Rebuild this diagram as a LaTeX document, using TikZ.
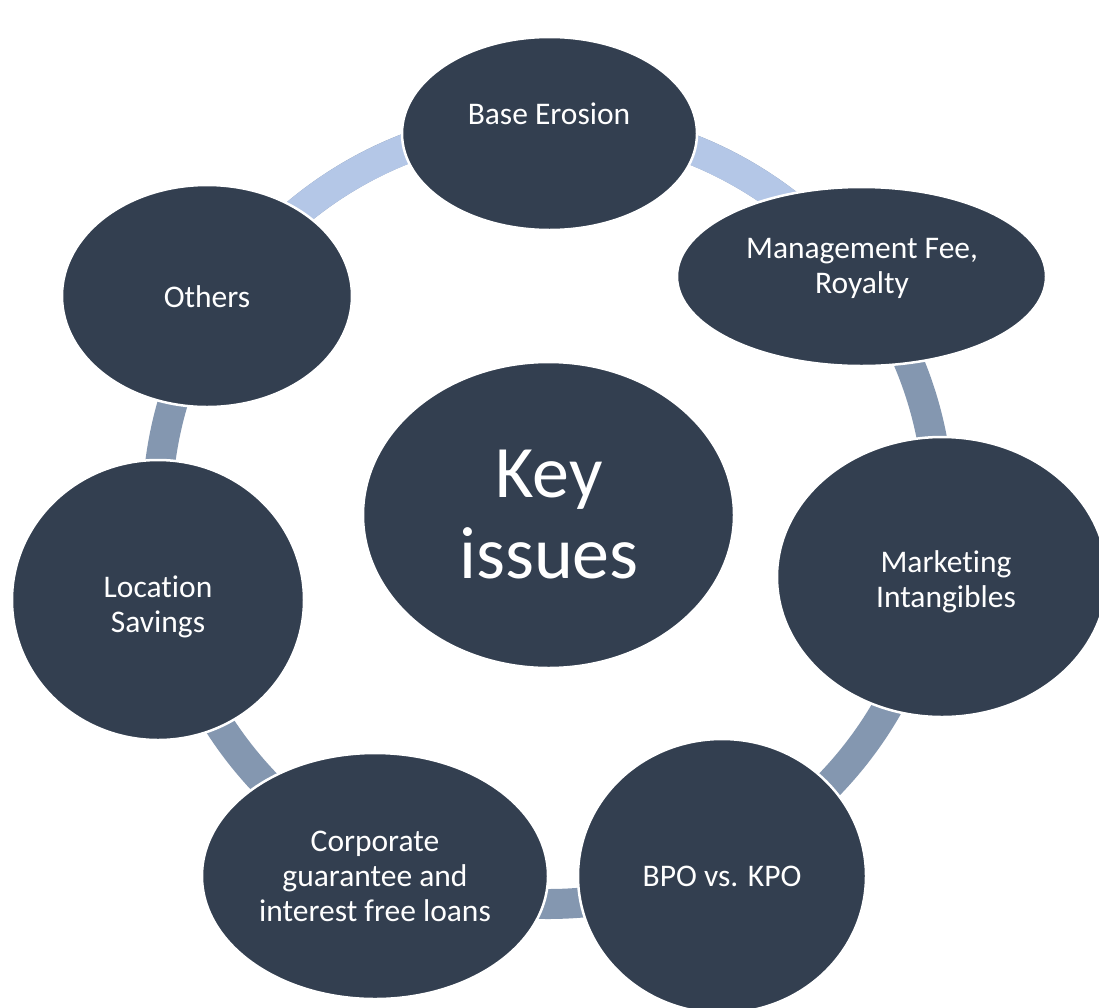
\documentclass[tikz,border=0pt]{standalone}
\usepackage{fontspec}
\setmainfont{Carlito}[Ligatures={NoCommon}]
\usetikzlibrary{shapes.geometric}
\definecolor{navy}{HTML}{333F50}
\definecolor{ringlight}{HTML}{B4C7E7}
\definecolor{ringdark}{HTML}{8497B0}
\begin{document}
\begin{tikzpicture}[x=1pt,y=-1pt,
  issue/.style={ellipse, fill=navy, draw=white, line width=2.5pt, inner sep=0pt},
  lbl/.style={text=white, align=center, font=\fontsize{31.5}{35}\selectfont, inner sep=0pt},
  biglbl/.style={text=white, align=center, font=\fontsize{74}{81}\selectfont, inner sep=0pt},
  ringseg/.style={line width=30pt}]
\useasboundingbox (0,0) rectangle (1099,1007);
\coordinate (hub) at (548,513);
\draw[ringseg, ringdark] (hub) circle[radius=391];
\draw[ringseg, ringlight] ([shift={(-147:391)}]hub) arc[start angle=-147, end angle=-37, radius=391];
\node[issue, minimum width=371pt, minimum height=306pt] (key) at (548.5,515) {};
\node[issue, minimum width=295pt, minimum height=193pt] (base) at (549.5,133.5) {};
\node[issue, minimum width=369pt, minimum height=179pt] (mgmt) at (861.5,276.5) {};
\node[issue, minimum width=330pt, minimum height=280pt] (mkt) at (942,577) {};
\node[issue, minimum width=288pt, minimum height=274pt] (bpo) at (722,876) {};
\node[issue, minimum width=346pt, minimum height=246pt] (corp) at (375,876) {};
\node[issue, minimum width=292pt, minimum height=280pt] (loc) at (158,600) {};
\node[issue, minimum width=290pt, minimum height=222pt] (oth) at (207,296) {};
\node[biglbl] (tkey) at (549,515) {Key\\issues};
\node[lbl] (tbase) at (549,114) {Base Erosion};
\node[lbl] (tmgmt) at (862,268) {Management Fee,\\Royalty};
\node[lbl] (tmkt) at (946,582) {Marketing\\Intangibles};
\node[lbl] (tbpo) at (722,876) {BPO vs. KPO};
\node[lbl] (tcorp) at (375,876) {Corporate\\guarantee and\\interest free loans};
\node[lbl] (tloc) at (158,607) {Location\\Savings};
\node[lbl] (toth) at (207,297) {Others};
\end{tikzpicture}
\end{document}
